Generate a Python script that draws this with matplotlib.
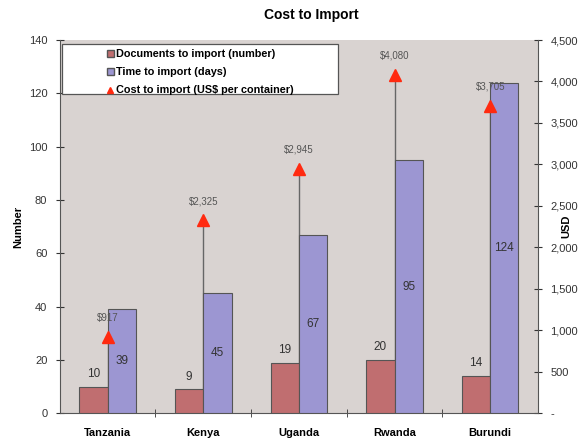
import matplotlib
matplotlib.use("Agg")
import matplotlib.pyplot as plt
import numpy as np
from matplotlib.lines import Line2D
from matplotlib.patches import Patch, Rectangle

countries = ["Tanzania", "Kenya", "Uganda", "Rwanda", "Burundi"]
documents = [10, 9, 19, 20, 14]
time_days = [39, 45, 67, 95, 124]
cost_usd = [917, 2325, 2945, 4080, 3705]

left_ticks = [0, 20, 40, 60, 80, 100, 120, 140]
right_ticks = [0, 500, 1000, 1500, 2000, 2500, 3000, 3500, 4000, 4500]

red = "#c06e70"
blue = "#9c96d2"
bg = "#d9d3d1"

plt.rcParams["font.family"] = ["Liberation Sans", "DejaVu Sans"]

fig = plt.figure(figsize=(5.81, 4.40), dpi=100)
ax = fig.add_axes([0.103, 0.061, 0.823, 0.848])
ax2 = ax.twinx()

x = np.arange(len(countries))
w = 0.295

# drop lines from the cost markers, hidden behind the bars
ax2.vlines(x, 0, cost_usd, color="#666666", lw=1.0, zorder=1)
ax2.set_zorder(1)
ax.set_zorder(2)
ax.patch.set_visible(False)
ax2.patch.set_visible(True)
ax2.patch.set_facecolor(bg)

ax.bar(x - w / 2, documents, w, color=red, edgecolor="#555555", lw=0.8, zorder=3)
ax.bar(x + w / 2, time_days, w, color=blue, edgecolor="#555555", lw=0.8, zorder=3)

ax3 = ax.twinx()
ax3.set_zorder(3)
ax3.patch.set_visible(False)
ax3.plot(x, cost_usd, linestyle="none", marker="^", color="#ff2a10", ms=8.5, mec="#ff2a10", zorder=5)
for xi, c in zip(x, cost_usd):
    ax3.text(xi, c + 170, "${:,}".format(c), ha="center", va="bottom", fontsize=7, color="#555555")

for xi, d in zip(x, documents):
    ax.text(xi - w / 2, d + 2.5, str(d), ha="center", va="bottom", fontsize=8.5, color="#333333")
for xi, t in zip(x, time_days):
    ax.text(xi + w / 2, t / 2, str(t), ha="center", va="center", fontsize=8.5, color="#333333")

ax.set_xlim(-0.5, len(countries) - 0.5)
ax.set_ylim(0, 140)
for a in (ax2, ax3):
    a.set_ylim(0, 4500)
    a.set_xlim(-0.5, len(countries) - 0.5)

ax.set_yticks(left_ticks)
ax.tick_params(axis="y", direction="inout", length=6, labelsize=8, colors="#333333", pad=6)
ax.set_xticks(x)
ax.set_xticklabels(countries, fontsize=8, fontweight="bold")
ax.tick_params(axis="x", length=0, pad=11)
ax.set_xticks(np.arange(len(countries) - 1) + 0.5, minor=True)
ax.tick_params(axis="x", which="minor", direction="inout", length=6, color="#333333")

ax2.set_yticks(right_ticks)
ax2.set_yticklabels(["-"] + ["{:,}".format(v) for v in right_ticks[1:]])
ax2.tick_params(axis="y", direction="inout", length=6, labelsize=8, colors="#333333", pad=6)
ax3.set_yticks([])

for a in (ax, ax2, ax3):
    for s in a.spines.values():
        s.set_visible(False)
ax.spines["left"].set_visible(True)
ax.spines["left"].set_color("#555555")
ax.spines["bottom"].set_visible(True)
ax.spines["bottom"].set_color("#555555")
ax2.spines["right"].set_visible(True)
ax2.spines["right"].set_color("#555555")

ax.set_ylabel("Number", fontsize=8, fontweight="bold", labelpad=4)
ax2.set_ylabel("USD", fontsize=8, fontweight="bold", rotation=90, labelpad=-12)

fig.text(0.535, 0.965, "Cost to Import", ha="center", va="center", fontsize=10, fontweight="bold")

# legend box
ax3.add_patch(Rectangle((0.004, 0.856), 0.578, 0.133, transform=ax3.transAxes,
                        facecolor="white", edgecolor="#555555", lw=0.9, zorder=6))
handles = [
    Patch(facecolor=red, edgecolor="#555555"),
    Patch(facecolor=blue, edgecolor="#555555"),
    Line2D([], [], linestyle="none", marker="^", color="#ff2a10", ms=4),
]
labels = ["Documents to import (number)", "Time to import (days)", "Cost to import (US$ per container)"]
leg = ax3.legend(handles, labels, loc="upper left", bbox_to_anchor=(0.092, 0.985),
                 frameon=False, handlelength=0.6, handleheight=0.6, handletextpad=0.25,
                 borderpad=0.3, labelspacing=0.75, borderaxespad=0.0,
                 prop={"weight": "bold", "size": 7.8})
leg.set_zorder(7)

fig.savefig("out.png", dpi=100, facecolor="white")
